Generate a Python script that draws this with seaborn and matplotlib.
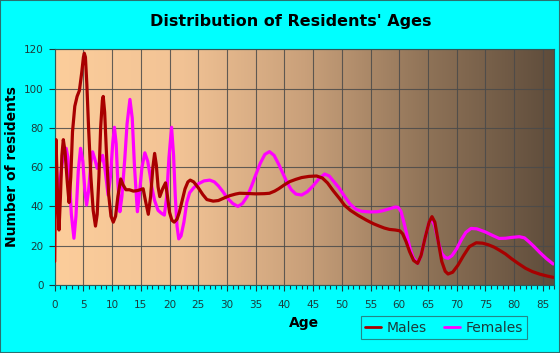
import numpy as np
import pandas as pd
import matplotlib
matplotlib.use("Agg")
import matplotlib.pyplot as plt
from matplotlib.colors import LinearSegmentedColormap
from matplotlib.patches import Rectangle
from matplotlib.lines import Line2D
import seaborn as sns

# === DATOS ===
edad_h = [0, 0.12, 0.23, 0.45, 0.75, 1.0, 1.25, 1.5, 1.8, 2.2, 2.5, 2.8, 3.1, 3.5, 3.9, 4.3,
          4.7, 5.0, 5.15, 5.35, 5.6, 5.9, 6.3, 6.7, 7.1, 7.4, 7.7, 8.0, 8.3, 8.45, 8.7, 9.0,
          9.4, 9.8, 10.2, 10.6, 11.0, 11.5, 11.9, 12.4, 13.0, 13.7, 14.3, 14.9, 15.4, 15.8,
          16.3, 16.7, 17.1, 17.4, 17.7, 18.0, 18.3, 18.8, 19.3, 19.6, 20.0, 20.4, 20.8, 21.3,
          21.7, 22.2, 22.7, 23.2, 23.6, 24.2, 25, 25.8, 26.5, 27.6, 28.5, 29.5, 30.5, 31.5,
          32.2, 33.5, 35, 36.5, 37.4, 38.3, 39, 40, 40.9, 42, 43, 44.3, 45.6, 46.6, 47.5,
          48.5, 49.6, 50.5, 51.5, 52.8, 54.3, 55.5, 56.5, 57.4, 58.3, 59.3, 60.1, 60.6, 61.2,
          61.8, 62.5, 63.2, 63.8, 64.5, 65.2, 65.7, 66.2, 66.8, 67.4, 68.0, 68.5, 69.3, 70.2,
          71.2, 72.2, 73.4, 74.5, 75.5, 76.5, 77.4, 78.5, 79.5, 80.7, 82, 83.2, 84.5, 85.7, 86.8]
hombres = [12, 50, 74, 50, 28, 45, 66, 74, 68, 52, 42, 55, 78, 91, 96, 99,
           108, 116, 118, 116, 102, 80, 55, 38, 30, 36, 55, 80, 94, 96, 88, 68,
           46, 35, 32, 35, 45, 54, 51, 48.5, 48.5, 47.8, 48, 48.5, 49, 43,
           36, 45, 60, 67, 61, 50, 45, 49, 52, 46, 37, 33, 32, 33.5,
           37, 43, 49, 52.5, 53.4, 52.5, 49.5, 46, 43.5, 42.7, 43, 44.3, 45.5, 46.3,
           46.7, 46.6, 46.4, 46.5, 46.7, 47.8, 49, 51, 52.6, 53.8, 54.7, 55.3, 55.5, 54.5, 52,
           48, 44, 40.5, 38, 35.5, 33, 31.2, 30, 29, 28.3, 28, 27.6, 26, 22,
           17, 12.5, 11, 15, 24, 32, 34.8, 32, 22, 12, 7, 5.6, 6.5, 10,
           15, 19.5, 21.5, 21.3, 20.5, 19.3, 17.8, 15.8, 13.5, 11, 8.5, 6.8, 5.5, 4.6, 3.9]

edad_m = [0, 0.2, 0.4, 0.6, 0.9, 1.3, 1.7, 2.0, 2.3, 2.6, 2.9, 3.35, 3.7, 4.1, 4.5, 4.9,
          5.25, 5.55, 5.9, 6.3, 6.6, 7.0, 7.4, 7.9, 8.35, 8.8, 9.3, 9.7, 10.1, 10.4, 10.7,
          11.0, 11.35, 11.7, 12.2, 12.6, 13.1, 13.5, 13.9, 14.4, 14.8, 15.2, 15.7, 16.2, 16.6,
          16.9, 17.4, 18, 18.6, 19.1, 19.5, 19.9, 20.35, 20.7, 21.0, 21.3, 21.6, 22.0, 22.5,
          23.0, 23.5, 24.2, 25, 26, 27, 27.8, 28.5, 29.3, 30, 31, 31.9, 32.7, 33.5, 34.3,
          35, 35.8, 36.6, 37.4, 38.2, 39, 39.8, 40.5, 41.2, 42, 43, 44, 45, 46, 47, 47.8,
          48.5, 49.5, 50.5, 51.5, 52.5, 53.5, 55, 56.2, 57.1, 58.3, 59.3, 59.8, 60.3, 60.8,
          61.3, 61.8, 62.4, 63.2, 63.8, 64.5, 65.2, 65.7, 66.2, 66.8, 67.4, 68.0, 68.5, 69.2,
          70, 70.8, 71.6, 72.5, 73.5, 75, 76.2, 77.4, 78.5, 79.5, 80.9, 81.8, 82.6, 83.5,
          84.5, 85.6, 86.8]
mujeres = [50, 66, 55, 47.5, 52, 62, 68, 69.6, 65, 52, 36, 23.8, 35, 58, 69.6, 63,
           48, 40.7, 48, 62, 67.8, 64, 59.4, 63, 66, 58, 45.8, 55, 72, 80.3, 72,
           52, 37.3, 45, 64, 82, 94.5, 85, 60, 37.3, 48, 60, 67.3, 63, 56,
           50, 43, 38, 36.5, 35.6, 45, 65, 80.3, 66, 45, 30, 23.5, 25, 32,
           42, 47, 49.5, 51.5, 53, 53.4, 52.5, 50.5, 47.5, 44.5, 41.5, 40, 41.5, 45, 50.5,
           56, 62, 66.5, 67.9, 66, 61.5, 56.5, 52, 48.5, 46.3, 45.8, 47.5, 50.5, 54, 56.5, 55.5,
           53, 49.5, 45, 41, 38.5, 37.5, 37.2, 37.3, 37.8, 38.8, 39.7, 39.5, 37.5, 32,
           26, 19.5, 14, 11, 15, 24, 32, 33.5, 30, 22, 16, 14, 13.6, 15,
           18.5, 23, 26.8, 28.8, 28.6, 27, 25.3, 23.7, 23.8, 24.2, 24.6, 24, 22, 19.5,
           16.5, 13.5, 10.7]

df = pd.concat([
    pd.DataFrame({"EDAD": edad_h, "RESIDENTES": hombres, "SEXO": "Males"}),
    pd.DataFrame({"EDAD": edad_m, "RESIDENTES": mujeres, "SEXO": "Females"}),
], ignore_index=True)

# === FIGURA ===
sns.set_style("white")
plt.rcParams["font.family"] = ["DejaVu Sans"]
fig = plt.figure(figsize=(5.6, 3.53), dpi=100)
fig.patch.set_facecolor("#00FFFF")
ax = fig.add_axes([54.7 / 560, 68 / 353, 499.6 / 560, 235.7 / 353])

# fondo degradado
cmap = LinearSegmentedColormap.from_list("fondo", ["#FCCD9B", "#F2C395", "#C9A07A", "#8E7257", "#5E4C3B"])
grad = np.linspace(0, 1, 256).reshape(1, -1)
ax.imshow(grad, aspect="auto", cmap=cmap, extent=[0, 87, 0, 120], zorder=0)

sns.lineplot(data=df, x="EDAD", y="RESIDENTES", hue="SEXO", hue_order=["Females", "Males"],
             estimator=None, sort=True, palette={"Males": "#A80000", "Females": "#FF00FF"},
             linewidth=2.3, ax=ax, zorder=3, legend=False)
for ln in ax.get_lines():
    ln.set_solid_joinstyle("round")
    ln.set_solid_capstyle("round")

ax.set_xlim(0, 87)
ax.set_ylim(0, 120)
ax.set_xticks(np.arange(0, 90, 5))
ax.set_xticks(np.arange(0, 88, 1), minor=True)
ax.set_yticks(np.arange(0, 121, 20))
ax.grid(True, which="major", color="#4a4a4a", linewidth=0.8, alpha=0.85)
for g in ax.get_xgridlines() + ax.get_ygridlines():
    g.set_zorder(1)
ax.tick_params(axis="both", which="major", labelsize=7.5, colors="#1c3b3b", length=4,
               width=0.8, direction="out", bottom=True, left=True, pad=4)
ax.tick_params(axis="x", which="major", pad=7)
ax.tick_params(axis="x", which="minor", length=3, width=0.8, color="#1c3b3b", bottom=True)
for s in ax.spines.values():
    s.set_color("#2a5a5a")
    s.set_linewidth(0.8)

ax.set_xlabel("")
ax.set_ylabel("")
fig.text(304 / 560, 1 - 323 / 353, "Age", ha="center", va="center",
         fontsize=10, fontweight="bold", color="black")
fig.text(12 / 560, 1 - 167 / 353, "Number of residents", ha="center", va="center",
         rotation=90, fontsize=10, fontweight="bold", color="black")
fig.text(291 / 560, 1 - 21.5 / 353, "Distribution of Residents' Ages", ha="center", va="center",
         fontsize=11.5, fontweight="bold", color="black")

# leyenda
handles = [Line2D([], [], color="#A80000", linewidth=2), Line2D([], [], color="#FF00FF", linewidth=2)]
leg = fig.legend(handles, ["Males", "Females"], loc="center", bbox_to_anchor=(444 / 560, 1 - 327.5 / 353),
                 ncol=2, fontsize=10, frameon=True, fancybox=False, handlelength=1.2,
                 handletextpad=0.4, columnspacing=1.2, borderpad=0.3)
leg.get_frame().set_facecolor("#00FFFF")
leg.get_frame().set_edgecolor("#2a6a6a")
leg.get_frame().set_linewidth(0.8)
for t in leg.get_texts():
    t.set_color("#1c3b3b")

fig.patches.append(Rectangle((0, 0), 1, 1, transform=fig.transFigure, fill=False,
                             edgecolor="#2a7070", linewidth=1.5))

fig.savefig("out.png", dpi=100, facecolor=fig.get_facecolor())
